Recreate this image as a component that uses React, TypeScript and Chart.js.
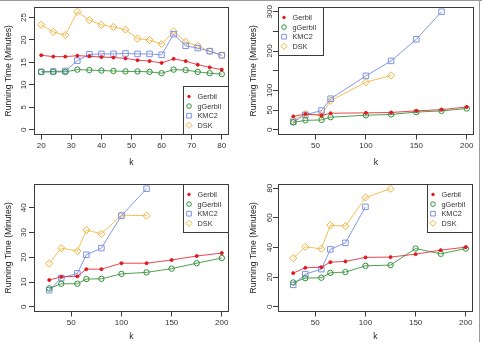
import React, { useEffect, useRef } from 'react';
import { Chart, registerables } from 'chart.js';
import { drawPoint } from 'chart.js/helpers';

Chart.register(...registerables);

const FONT = '"Liberation Sans", Arial, Helvetica, sans-serif';

const seriesNames = ['Gerbil', 'gGerbil', 'KMC2', 'DSK'];

// Panel A (top-left)
const kA = [20, 24, 28, 32, 36, 40, 44, 48, 52, 56, 60, 64, 68, 72, 76, 80];
const gerbilA = [16.6, 16.3, 16.3, 16.5, 16.4, 16.2, 16.1, 15.9, 15.5, 15.3, 14.9, 15.8, 15.3, 14.5, 13.9, 13.4];
const gGerbilA = [12.9, 12.9, 12.9, 13.4, 13.3, 13.2, 13.1, 13.0, 13.0, 12.9, 12.6, 13.4, 13.3, 12.9, 12.6, 12.4];
const kmc2A = [12.9, 13.0, 13.1, 15.4, 16.8, 16.9, 16.9, 17.0, 16.9, 16.9, 16.7, 21.3, 18.7, 18.2, 17.5, 16.6];
const dskA = [23.4, 21.8, 21.1, 26.3, 24.4, 23.4, 22.9, 22.3, 20.3, 20.0, 19.1, 21.9, 19.6, 18.7, 17.5, 16.6];
const xTicksA = [20, 30, 40, 50, 60, 70, 80];
const yTicksA = [0, 5, 10, 15, 20, 25];
const yLabelsA = ['0', '5', '10', '15', '20', '25'];

// Panel B (top-right)
const kB = [28, 40, 56, 65, 100, 125, 150, 175, 200];
const gerbilB = [34, 40, 36.5, 42, 43, 44, 48, 51, 58];
const gGerbilB = [19, 24, 25, 32, 37, 39, 45, 48, 54];
const kmc2B = [20, 38, 49, 79, 137, 175, 230, 300];
const dskB = [25, 40, 38, 74, 121, 138];
const xTicksB = [50, 100, 150, 200];
const yTicksB = [0, 50, 100, 150, 200, 250, 300];
const yLabelsB = ['0', '50', '100', '', '200', '', '300'];

// Panel C (bottom-left)
const kC = [28, 40, 56, 65, 80, 100, 125, 150, 175, 200];
const gerbilC = [10.8, 12.1, 12.3, 15.2, 15.2, 17.6, 17.6, 18.9, 20.5, 21.7];
const gGerbilC = [7.4, 9.3, 9.3, 11.2, 11.3, 13.3, 13.9, 15.4, 17.6, 19.7];
const kmc2C = [6.7, 11.6, 13.5, 21.0, 23.7, 36.8, 47.7];
const dskC = [17.5, 23.7, 22.5, 31.0, 29.5, 37.0, 36.8];
const xTicksC = [50, 100, 150, 200];
const yTicksC = [0, 10, 20, 30, 40];
const yLabelsC = ['0', '10', '20', '30', '40'];

// Panel D (bottom-right)
const kD = [28, 40, 56, 65, 80, 100, 125, 150, 175, 200];
const gerbilD = [22.7, 26.3, 26.7, 30.1, 30.6, 33.3, 33.5, 35.5, 38.2, 40.2];
const gGerbilD = [16.4, 19.3, 19.6, 22.9, 23.4, 27.6, 28.1, 39.3, 35.7, 39.3];
const kmc2D = [14.8, 22.0, 25.4, 38.7, 43.1, 67.4];
const dskD = [32.8, 40.4, 39.1, 55.0, 54.4, 73.7, 79.6];
const xTicksD = [50, 100, 150, 200];
const yTicksD = [0, 20, 40, 60, 80];
const yLabelsD = ['0', '20', '40', '60', '80'];

const styles = [
  { line: 'rgba(228,40,50,0.85)', pBorder: '#E0191F', pFill: '#E0191F', style: 'circle', r: 1.5 },
  { line: 'rgba(60,150,60,0.9)', pBorder: '#2F8F3A', pFill: 'rgba(0,0,0,0)', style: 'circle', r: 2.7 },
  { line: 'rgba(120,140,230,0.9)', pBorder: '#7E93E6', pFill: 'rgba(0,0,0,0)', style: 'rect', r: 3.9 },
  { line: 'rgba(245,185,70,0.9)', pBorder: '#F3B23C', pFill: 'rgba(0,0,0,0)', style: 'rectRot', r: 3.6 },
];

const TICK_SIZE = 8;
const TITLE_SIZE = 8.6;
const LEGEND_SIZE = 7.3;

type Panel = {
  k: number[];
  series: number[][];
  xTicks: number[];
  yTicks: number[];
  yLabels: string[];
  xMin: number; xMax: number; yMin: number; yMax: number;
  L: number; R: number; T: number; B: number;
  yLabelX: number; yTitleX: number; xLabelPad: number; xTitlePad: number;
  corner: string;
  left: number; top: number;
};

const panels: Panel[] = [
  { k: kA, series: [gerbilA, gGerbilA, kmc2A, dskA], xTicks: xTicksA, yTicks: yTicksA, yLabels: yLabelsA,
    xMin: 17.6, xMax: 82.4, yMin: -1.05, yMax: 27.35,
    L: 34, R: 229, T: 7, B: 134.5, yLabelX: 23.3, yTitleX: 8.3, xLabelPad: 1.5, xTitlePad: 3,
    corner: 'bottomright', left: 0, top: 0 },
  { k: kB, series: [gerbilB, gGerbilB, kmc2B, dskB], xTicks: xTicksB, yTicks: yTicksB, yLabels: yLabelsB,
    xMin: 12.8, xMax: 207.2, yMin: -12, yMax: 312,
    L: 37, R: 233, T: 7, B: 134.5, yLabelX: 29, yTitleX: 12.3, xLabelPad: 1.5, xTitlePad: 3,
    corner: 'topleft', left: 241, top: 0 },
  { k: kC, series: [gerbilC, gGerbilC, kmc2C, dskC], xTicks: xTicksC, yTicks: yTicksC, yLabels: yLabelsC,
    xMin: 12.8, xMax: 207.2, yMin: -1.91, yMax: 49.6,
    L: 34, R: 229, T: 13, B: 140.5, yLabelX: 23.3, yTitleX: 8.3, xLabelPad: 1, xTitlePad: 0.5,
    corner: 'topright', left: 0, top: 171 },
  { k: kD, series: [gerbilD, gGerbilD, kmc2D, dskD], xTicks: xTicksD, yTicks: yTicksD, yLabels: yLabelsD,
    xMin: 12.8, xMax: 207.2, yMin: -3.18, yMax: 82.8,
    L: 37, R: 232, T: 13, B: 140.5, yLabelX: 29, yTitleX: 12.3, xLabelPad: 1, xTitlePad: 0.5,
    corner: 'topright', left: 241, top: 171 },
];

const W = 241;
const H = 171;

const boxPlugin = {
  id: 'rbox',
  afterDatasetsDraw(chart: any) {
    const { ctx, chartArea } = chart;
    ctx.save();
    ctx.strokeStyle = '#3a3a3a';
    ctx.lineWidth = 1;
    const l = Math.round(chartArea.left) + 0.5;
    const t = Math.round(chartArea.top) + 0.5;
    const r = Math.round(chartArea.right) - 0.5;
    const b = Math.round(chartArea.bottom) - 0.5;
    ctx.strokeRect(l, t, r - l, b - t);
    ctx.restore();
  },
};

const legendPlugin = {
  id: 'rlegend',
  afterDraw(chart: any, _args: any, opts: any) {
    const { ctx, chartArea } = chart;
    const corner: string = opts.corner || 'topright';
    ctx.save();
    ctx.font = `${LEGEND_SIZE}px ${FONT}`;
    const ds = chart.data.datasets;
    const tw = Math.max(...ds.map((d: any) => ctx.measureText(d.label).width));
    const w = Math.round(15 + tw + 7);
    const h = 49;
    const x = corner.includes('left') ? Math.round(chartArea.left) : Math.round(chartArea.right) - w;
    const y = corner.includes('top') ? Math.round(chartArea.top) : Math.round(chartArea.bottom) - h;
    ctx.fillStyle = '#fff';
    ctx.fillRect(x, y, w, h);
    ctx.strokeStyle = '#3a3a3a';
    ctx.lineWidth = 1;
    ctx.strokeRect(x + 0.5, y + 0.5, w - 1, h - 1);
    ds.forEach((d: any, i: number) => {
      const cy = y + 10.5 + i * 9.6;
      ctx.fillStyle = d.pointBackgroundColor;
      ctx.strokeStyle = d.pointBorderColor;
      ctx.lineWidth = 1;
      drawPoint(ctx, { pointStyle: d.pointStyle, rotation: 0, radius: d.pointRadius * 0.85, borderWidth: 1 }, x + 6, cy);
      ctx.fillStyle = '#333';
      ctx.textBaseline = 'middle';
      ctx.textAlign = 'left';
      ctx.fillText(d.label, x + 14.5, cy + 0.5);
    });
    ctx.restore();
  },
};

function measure(text: string, size: number): number {
  const c = document.createElement('canvas');
  const ctx = c.getContext('2d')!;
  ctx.font = `${size}px ${FONT}`;
  return ctx.measureText(text).width;
}

function PanelChart({ p }: { p: Panel }) {
  const ref = useRef<HTMLCanvasElement | null>(null);
  useEffect(() => {
    if (!ref.current) return;
    const tl = 5;
    const widest = Math.max(...p.yLabels.map((s) => measure(s, TICK_SIZE)));
    const yPad = p.L - tl - widest / 2 - p.yLabelX;
    const titleLH = TITLE_SIZE * 1.2;
    const datasets = seriesNames.map((name, si) => {
      const st = styles[si];
      const vals = p.series[si];
      return {
        label: name,
        data: vals.map((v, i) => ({ x: p.k[i], y: v })),
        borderColor: st.line,
        backgroundColor: st.pFill,
        borderWidth: 1,
        pointStyle: st.style,
        pointRadius: st.r,
        pointBorderWidth: 1,
        pointBackgroundColor: st.pFill,
        pointBorderColor: st.pBorder,
        tension: 0,
        fill: false,
      };
    });
    const chart = new Chart(ref.current, {
      type: 'line',
      data: { datasets },
      plugins: [boxPlugin, legendPlugin],
      options: {
        animation: false,
        responsive: false,
        devicePixelRatio: 1,
        events: [],
        layout: { padding: { left: 0, top: p.T, right: W - p.R, bottom: 0 } },
        plugins: {
          legend: { display: false },
          tooltip: { enabled: false },
          rlegend: { corner: p.corner },
        } as any,
        scales: {
          x: {
            type: 'linear',
            min: p.xMin,
            max: p.xMax,
            afterBuildTicks: (s: any) => { s.ticks = p.xTicks.map((v) => ({ value: v })); },
            afterFit: (s: any) => { s.height = H - p.B; },
            ticks: {
              font: { size: TICK_SIZE, family: FONT },
              color: '#333',
              padding: p.xLabelPad,
              maxRotation: 0,
              minRotation: 0,
              autoSkip: false,
              callback: (v: any) => String(v),
            },
            grid: { drawOnChartArea: false, drawTicks: true, tickLength: tl, color: '#3a3a3a' },
            border: { display: false },
            title: {
              display: true,
              text: 'k',
              color: '#222',
              font: { size: TITLE_SIZE, family: FONT },
              padding: { top: 0, bottom: p.xTitlePad },
            },
          },
          y: {
            type: 'linear',
            min: p.yMin,
            max: p.yMax,
            afterBuildTicks: (s: any) => { s.ticks = p.yTicks.map((v) => ({ value: v })); },
            afterFit: (s: any) => { s.width = p.L; },
            ticks: {
              font: { size: TICK_SIZE, family: FONT },
              color: '#333',
              padding: yPad,
              minRotation: 90,
              maxRotation: 90,
              crossAlign: 'center',
              autoSkip: false,
              callback: (v: any) => {
                const idx = p.yTicks.indexOf(Number(v));
                return idx >= 0 ? p.yLabels[idx] : '';
              },
            },
            grid: { drawOnChartArea: false, drawTicks: true, tickLength: tl, color: '#3a3a3a' },
            border: { display: false },
            title: {
              display: true,
              text: 'Running Time (Minutes)',
              color: '#222',
              font: { size: TITLE_SIZE, family: FONT },
              padding: { top: p.yTitleX - titleLH / 2, bottom: 0 },
            },
          },
        },
      } as any,
    });
    return () => chart.destroy();
  }, [p]);
  return (
    <div style={{ position: 'absolute', left: p.left, top: p.top, width: W, height: H }}>
      <canvas ref={ref} width={W} height={H} style={{ width: W, height: H, display: 'block' }} />
    </div>
  );
}

export default function App() {
  return (
    <div style={{ position: 'fixed', left: 0, top: 0, width: 482, height: 342, background: '#fff', overflow: 'hidden' }}>
      {panels.map((p, i) => (
        <PanelChart key={i} p={p} />
      ))}
      <div style={{ position: 'absolute', left: 0, top: 0, width: 482, height: 1, background: '#9a9a9a' }} />
      <div style={{ position: 'absolute', left: 479, top: 0, width: 1, height: 342, background: '#9a9a9a' }} />
    </div>
  );
}
